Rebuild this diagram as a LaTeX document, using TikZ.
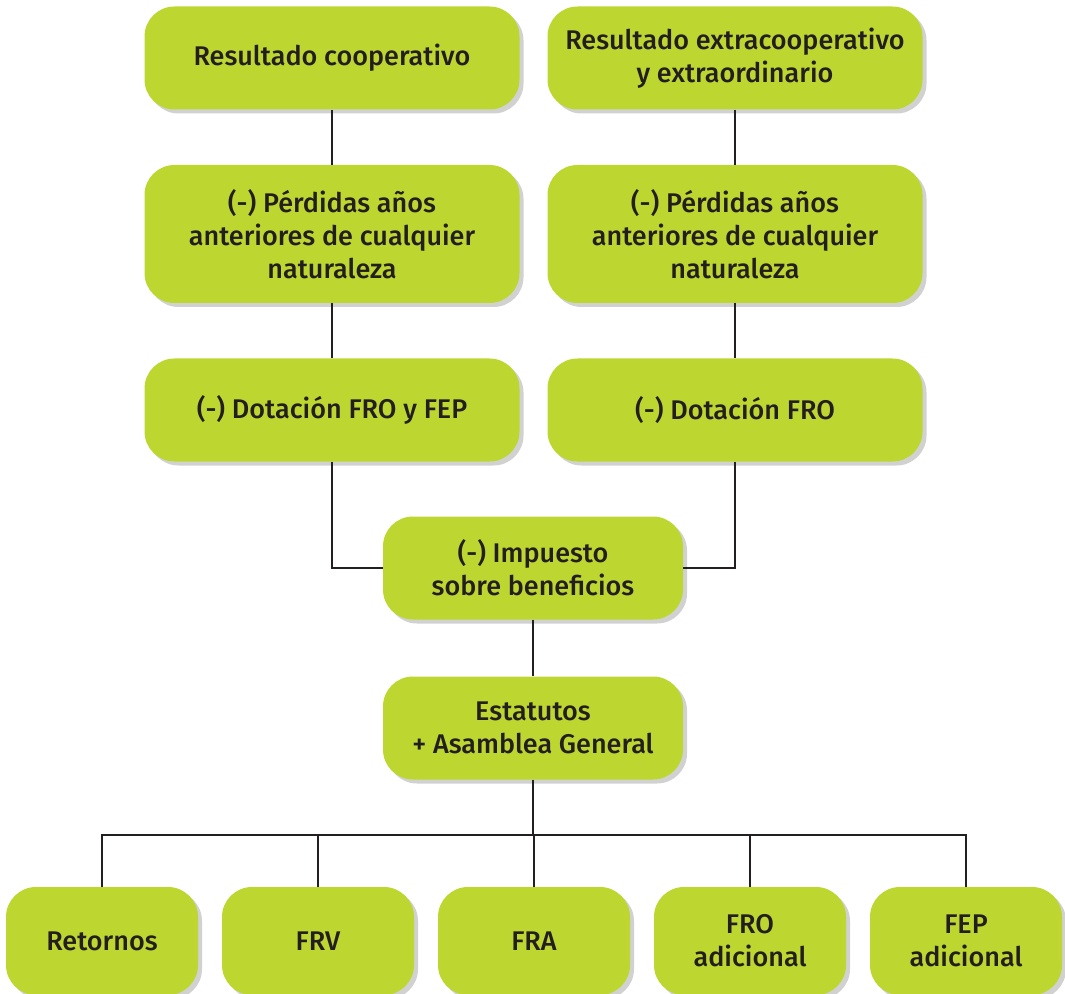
\documentclass[tikz,border=0pt]{standalone}
\usepackage{fontspec}
\setmainfont{Fira Sans}[BoldFont={Fira Sans Medium}]
\usetikzlibrary{shadows}
\definecolor{lime}{HTML}{BED630}
\definecolor{ink}{HTML}{231F20}

\begin{document}
\begin{tikzpicture}[x=0.5pt,y=-0.5pt,font=\fontsize{13.5}{16.5}\selectfont\bfseries,
  box/.style={fill=lime,rounded corners=15pt,minimum width=#1,text=ink,align=center,
    drop shadow={shadow xshift=2pt,shadow yshift=-2pt,opacity=0.3,fill=black!60}},
  big/.style={box=187.5pt,minimum height=51.5pt},
  tall/.style={box=187.5pt,minimum height=69pt},
  mid/.style={box=150pt,minimum height=51.5pt},
  leaf/.style={box=96pt,minimum height=54pt},
  link/.style={draw=ink,line width=1.1pt}]

\useasboundingbox (0,0) rectangle (1065,994);

% ---------- left column ----------
\node[big]  (res1) at (332,58)  {Resultado cooperativo};
\node[tall] (per1) at (332,234) {(-) Pérdidas años\\anteriores de cualquier\\naturaleza};
\node[big]  (dot1) at (332,410) {(-) Dotación FRO y FEP};

% ---------- right column ----------
\node[big]  (res2) at (735,58)  {Resultado extracooperativo\\y extraordinario};
\node[tall] (per2) at (735,234) {(-) Pérdidas años\\anteriores de cualquier\\naturaleza};
\node[big]  (dot2) at (735,410) {(-) Dotación FRO};

% ---------- centre ----------
\node[mid] (imp) at (533,568) {(-) Impuesto\\sobre beneficios};
\node[mid] (est) at (533,728) {Estatutos\\+ Asamblea General};

% ---------- destinations ----------
\node[leaf] (ret) at (102,941) {Retornos};
\node[leaf] (frv) at (318,941) {FRV};
\node[leaf] (fra) at (534,941) {FRA};
\node[leaf] (fro) at (750,941) {FRO\\adicional};
\node[leaf] (fep) at (966,941) {FEP\\adicional};

% connectors
\draw[link] (res1) -- (per1);
\draw[link] (per1) -- (dot1);
\draw[link] (res2) -- (per2);
\draw[link] (per2) -- (dot2);
\draw[link] (dot1) |- (imp);
\draw[link] (dot2) |- (imp);
\draw[link] (imp) -- (est);
\coordinate (bus) at (533,835);
\draw[link] (est) -- (bus);
\foreach \n in {ret,frv,fra,fro,fep}
  \draw[link] (bus) -| (\n);
\end{tikzpicture}
\end{document}
